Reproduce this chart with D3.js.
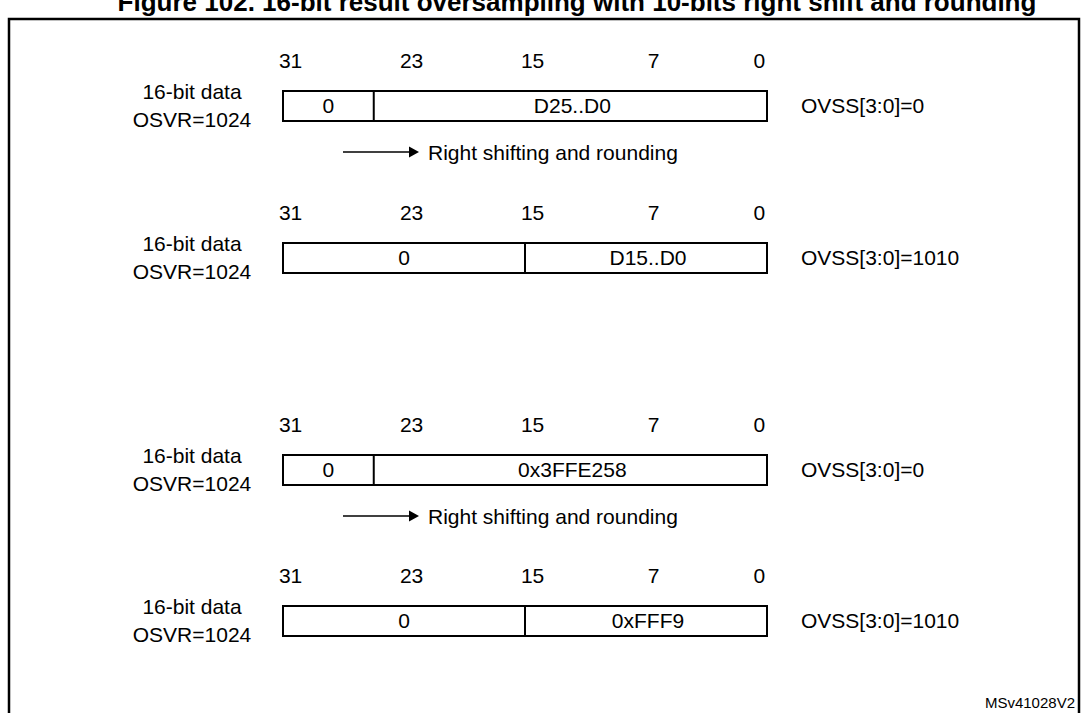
<!DOCTYPE html>
<html><head><meta charset="utf-8">
<script src="https://cdn.jsdelivr.net/npm/d3@7"></script>
<style>html,body{margin:0;padding:0;background:#fff;}svg{display:block;}</style>
</head><body>
<svg id="c" width="1085" height="713"></svg>
<script>
const title = "Figure 102. 16-bit result oversampling with 10-bits right shift and rounding";
const bitTicks = [31, 23, 15, 7, 0];
const leftLabels = ["16-bit data", "OSVR=1024"];
const splitBits = [26, 16, 26, 16];          // lower field occupies bits splitBit-1..0
const upperFields = ["0", "0", "0", "0"];
const lowerFields = ["D25..D0", "D15..D0", "0x3FFE258", "0xFFF9"];
const ovssLabels = ["OVSS[3:0]=0", "OVSS[3:0]=1010", "OVSS[3:0]=0", "OVSS[3:0]=1010"];
const arrowAfterRows = [0, 2];
const arrowText = "Right shifting and rounding";
const footnote = "MSv41028V2";

const svg = d3.select("#c");
const F = "Arial, 'Liberation Sans', sans-serif";
const fs = 21;

// frame
svg.append("rect").attr("x", 9).attr("y", 19).attr("width", 1070).attr("height", 720)
  .attr("fill", "none").attr("stroke", "#000").attr("stroke-width", 2.5);
// title (clipped at top as in the reference)
svg.append("text").attr("x", 577).attr("y", 11).attr("text-anchor", "middle")
  .attr("font-family", F).attr("font-weight", "bold").attr("font-size", 26).text(title);

const x = d3.scaleLinear().domain([32, 0]).range([283, 767]);
const rowTop = [91, 243, 455, 606];
const boxH = 30;

rowTop.forEach((top, i) => {
  const g = svg.append("g");
  g.selectAll("text.bit").data(bitTicks).join("text").attr("class", "bit")
    .attr("x", d => x(d + 0.5)).attr("y", top - 23).attr("text-anchor", "middle")
    .attr("font-family", F).attr("font-size", fs).text(d => d);
  g.selectAll("text.ll").data(leftLabels).join("text").attr("class", "ll")
    .attr("x", 192).attr("y", (d, j) => top + 8 + j * 28).attr("text-anchor", "middle")
    .attr("font-family", F).attr("font-size", fs).text(d => d);
  g.append("rect").attr("x", x(32)).attr("y", top).attr("width", x(0) - x(32)).attr("height", boxH)
    .attr("fill", "none").attr("stroke", "#000").attr("stroke-width", 2);
  const s = splitBits[i];
  g.append("line").attr("x1", x(s)).attr("x2", x(s)).attr("y1", top).attr("y2", top + boxH)
    .attr("stroke", "#000").attr("stroke-width", 2);
  g.append("text").attr("x", (x(32) + x(s)) / 2).attr("y", top + 22).attr("text-anchor", "middle")
    .attr("font-family", F).attr("font-size", fs).text(upperFields[i]);
  g.append("text").attr("x", (x(s) + x(0)) / 2 + 2).attr("y", top + 22).attr("text-anchor", "middle")
    .attr("font-family", F).attr("font-size", fs).text(lowerFields[i]);
  g.append("text").attr("x", 801).attr("y", top + 22)
    .attr("font-family", F).attr("font-size", fs).text(ovssLabels[i]);
});

arrowAfterRows.forEach(r => {
  const ay = rowTop[r] + 61;
  svg.append("line").attr("x1", 343).attr("x2", 410).attr("y1", ay).attr("y2", ay)
    .attr("stroke", "#000").attr("stroke-width", 1.6);
  svg.append("path").attr("d", `M409,${ay - 5.5}L419,${ay}L409,${ay + 5.5}Z`).attr("fill", "#000");
  svg.append("text").attr("x", 428).attr("y", ay + 8)
    .attr("font-family", F).attr("font-size", fs).text(arrowText);
});

svg.append("text").attr("x", 1075).attr("y", 708).attr("text-anchor", "end")
  .attr("font-family", F).attr("font-size", 15).text(footnote);
</script>
</body></html>
